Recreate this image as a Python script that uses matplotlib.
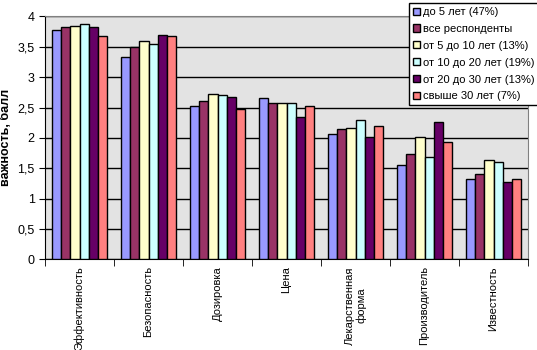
import matplotlib
matplotlib.use("Agg")
import matplotlib.pyplot as plt
import numpy as np

plt.rcParams['font.family'] = ['Liberation Sans', 'DejaVu Sans']

categories = ["Эффективность", "Безопасность", "Дозировка", "Цена",
              "Лекарственная\nформа", "Производитель", "Известность"]
series_names = ["до 5 лет (47%)", "все респонденты", "от 5 до 10 лет (13%)",
                "от 10 до 20 лет (19%)", "от 20 до 30 лет (13%)", "свыше 30 лет (7%)"]
colors = ["#9999FF", "#993366", "#FFFFCC", "#CCFFFF", "#660066", "#FF8080"]

do5 = [3.78, 3.34, 2.52, 2.66, 2.07, 1.56, 1.32]
vse = [3.82, 3.49, 2.60, 2.58, 2.14, 1.73, 1.41]
ot5_10 = [3.85, 3.59, 2.73, 2.57, 2.17, 2.02, 1.63]
ot10_20 = [3.88, 3.55, 2.71, 2.57, 2.29, 1.69, 1.61]
ot20_30 = [3.82, 3.70, 2.68, 2.35, 2.02, 2.27, 1.28]
svyshe30 = [3.68, 3.68, 2.48, 2.53, 2.19, 1.94, 1.33]
series = [do5, vse, ot5_10, ot10_20, ot20_30, svyshe30]

yticks = [0, 0.5, 1, 1.5, 2, 2.5, 3, 3.5, 4]
ytick_labels = ["0", "0,5", "1", "1,5", "2", "2,5", "3", "3,5", "4"]

fig = plt.figure(figsize=(5.37, 3.5), dpi=100)
ax = fig.add_axes([0.0838, 0.259, 0.8995, 0.694])
ax.set_facecolor("#E3E3E3")

x = np.arange(len(categories))
w = 0.8 / len(series)
for i, (vals, name, c) in enumerate(zip(series, series_names, colors)):
    ax.bar(x - 0.4 + w * (i + 0.5), vals, width=w, color=c, edgecolor="black",
           linewidth=1, label=name, zorder=3)

ax.set_xlim(-0.5, len(categories) - 0.5)
ax.set_ylim(0, 4)
ax.set_yticks(yticks)
ax.set_yticklabels(ytick_labels, fontsize=9)
ax.yaxis.grid(True, color="black", linewidth=1, zorder=0)
ax.set_axisbelow(True)

ax.set_xticks(x)
ax.set_xticklabels(categories, rotation=90, fontsize=8, va="top", ha="center",
                   multialignment="center")
ax.tick_params(axis="x", length=0, pad=5)
ax.set_xticks(np.arange(-0.5, len(categories)), minor=True)
ax.tick_params(axis="x", which="minor", length=5, direction="out")
ax.tick_params(axis="y", length=4, direction="out")

for s in ["top", "right"]:
    ax.spines[s].set_color("#808080")
for s in ["left", "bottom"]:
    ax.spines[s].set_color("black")

ax.set_ylabel("важность, балл", fontsize=9, fontweight="bold")

leg = ax.legend(loc="upper left", bbox_to_anchor=(0.762, 0.991),
                bbox_transform=fig.transFigure, fontsize=8, frameon=True,
                fancybox=False, edgecolor="black", framealpha=1,
                borderaxespad=0, handlelength=0.6, handleheight=0.6,
                handletextpad=0.3, labelspacing=0.62, borderpad=0.35)
leg.get_frame().set_linewidth(1)
leg.set_zorder(5)

fig.savefig("out.png", dpi=100)
